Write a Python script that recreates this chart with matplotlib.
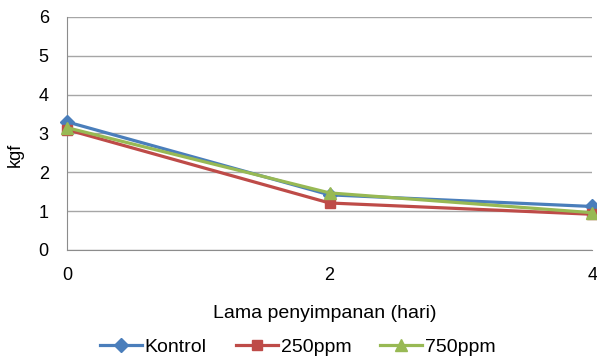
import matplotlib.pyplot as plt
import numpy as np

plt.rcParams['font.family'] = ['Liberation Sans', 'DejaVu Sans']

hari = np.array([0, 2, 4])
kontrol = np.array([3.30, 1.42, 1.12])
ppm250 = np.array([3.10, 1.21, 0.92])
ppm750 = np.array([3.15, 1.47, 0.96])

fig = plt.figure(figsize=(5.97, 3.61), dpi=100)
ax = fig.add_axes([0.112, 0.3075, 0.880, 0.6455])

ax.plot(hari, kontrol, color='#4A7EBB', lw=2.3, marker='D', ms=7, label='Kontrol', clip_on=False, zorder=3)
ax.plot(hari, ppm250, color='#BE4B48', lw=2.3, marker='s', ms=7.5, label='250ppm', clip_on=False, zorder=4)
ax.plot(hari, ppm750, color='#98B954', lw=2.3, marker='^', ms=8, label='750ppm', clip_on=False, zorder=5)

ax.set_xlim(0, 4)
ax.set_ylim(0, 6)
ax.set_xticks([0, 2, 4])
ax.set_yticks(range(0, 7))
ax.tick_params(axis='both', length=0, labelsize=13, colors='black')
ax.tick_params(axis='x', pad=12)
ax.tick_params(axis='y', pad=13)
ax.yaxis.grid(True, color='#A6A6A6', lw=1)
ax.set_axisbelow(True)
for s in ['top', 'right']:
    ax.spines[s].set_visible(False)
for s in ['left', 'bottom']:
    ax.spines[s].set_color('#8C8C8C')

ax.set_xlabel('Lama penyimpanan (hari)', fontsize=14)
ax.xaxis.set_label_coords(0.49, -0.238)
ax.set_ylabel('kgf', fontsize=13)
ax.yaxis.set_label_coords(-0.082, 0.41)

fig.legend(loc='center', bbox_to_anchor=(0.499, 0.039), ncol=3, frameon=False,
           fontsize=14, handlelength=2.15, columnspacing=1.5, handletextpad=0.15,
           borderpad=0, borderaxespad=0)

fig.savefig('out.png', dpi=100)
